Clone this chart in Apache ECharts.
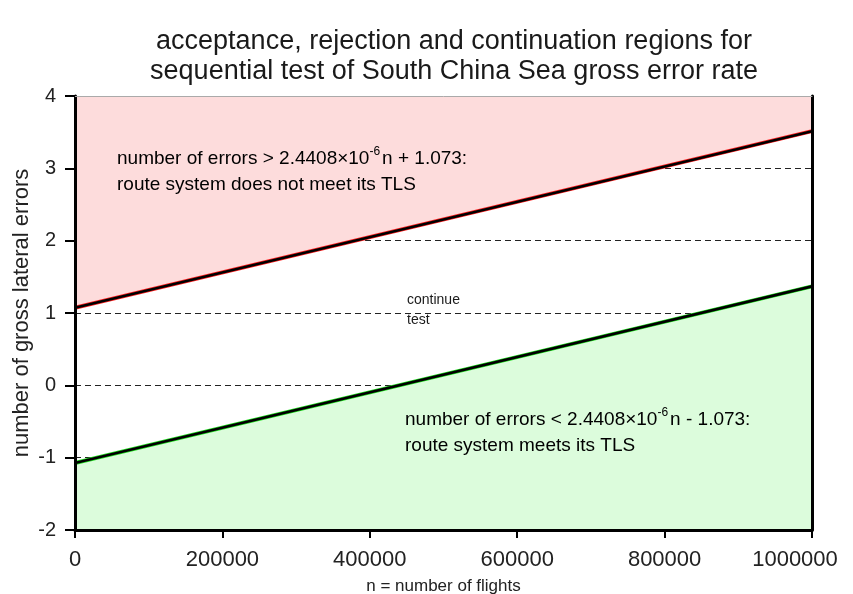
<!DOCTYPE html>
<html>
<head>
<meta charset="utf-8">
<script src="https://cdn.jsdelivr.net/npm/echarts@6/dist/echarts.min.js"></script>
<style>
  html, body { margin: 0; padding: 0; background: #fff; }
  #chart { width: 853px; height: 594px; }
</style>
</head>
<body>
<div id="chart"></div>
<script>
// Number of flights at the two ends of the boundary lines
const flights = [0, 1000000];
// Rejection boundary: errors = 2.4408e-6 n + 1.073
const rejectBoundary = [1.073, 3.514];
// Acceptance boundary: errors = 2.4408e-6 n - 1.073
const acceptBoundary = [-1.073, 1.368];
const xTicks = [0, 200000, 400000, 600000, 800000, 1000000];
const yTicks = [-2, -1, 0, 1, 2, 3, 4];

const FONT = '"Liberation Sans", Arial, sans-serif';
const pairs = (ys) => flights.map((x, i) => [x, ys[i]]);

const chart = echarts.init(document.getElementById('chart'), null, { renderer: 'canvas' });

const xMax = xTicks[xTicks.length - 1];
const xRange = { min: xTicks[0], max: xMax, interval: xTicks[1] - xTicks[0] };
const yRange = { min: yTicks[0], max: yTicks[yTicks.length - 1], interval: yTicks[1] - yTicks[0] };

const annotationRich = {
  t: { fontFamily: FONT, fontSize: 19, color: '#1a1a1a', lineHeight: 26 },
  s: { fontFamily: FONT, fontSize: 12, color: '#1a1a1a', verticalAlign: 'top', lineHeight: 26, padding: [0, 2, 8, 0] }
};

const tickFont = { fontFamily: FONT, fontSize: 22, color: '#222' };

chart.setOption({
  animation: false,
  backgroundColor: '#fff',
  title: {
    text: 'acceptance, rejection and continuation regions for\nsequential test of South China Sea gross error rate',
    left: 449, top: 22, textAlign: 'center',
    textStyle: { fontFamily: FONT, fontSize: 27, fontWeight: 'normal', color: '#1a1a1a', lineHeight: 30 }
  },
  grid: { left: 75, right: 41, top: 96, bottom: 64, containLabel: false, outerBoundsMode: 'none' },
  xAxis: [
    {
      type: 'value', position: 'bottom', ...xRange, z: 10,
      axisLine: { onZero: false, lineStyle: { color: '#000', width: 3 } },
      axisTick: { length: 8, lineStyle: { color: '#000', width: 2 } },
      axisLabel: {
        margin: 19, ...tickFont,
        // the last label is nudged left so it stays inside the canvas
        formatter: (v) => (v === xMax ? '{last|' + v + '}' : String(v)),
        rich: { last: { ...tickFont, padding: [0, 34, 0, 0] } }
      },
      splitLine: { show: false },
      name: 'n = number of flights', nameLocation: 'middle', nameGap: 48, nameMoveOverlap: false,
      nameTextStyle: { fontFamily: FONT, fontSize: 17, color: '#222' }
    },
    {
      type: 'value', position: 'top', ...xRange, z: 10,
      axisLine: { onZero: false, lineStyle: { color: '#aaa', width: 1 } },
      axisTick: { show: false }, axisLabel: { show: false }, splitLine: { show: false }
    }
  ],
  yAxis: [
    {
      type: 'value', position: 'left', ...yRange, z: 0,
      axisLine: { show: false }, axisTick: { show: false }, axisLabel: { show: false },
      splitLine: { show: true, lineStyle: { color: '#222', width: 1.2, type: [6, 4] } }
    },
    {
      type: 'value', position: 'left', ...yRange, z: 10,
      axisLine: { show: true, onZero: false, lineStyle: { color: '#000', width: 3 } },
      axisTick: { show: true, length: 10, lineStyle: { color: '#000', width: 2 } },
      axisLabel: { margin: 19, fontFamily: FONT, fontSize: 20, color: '#222' },
      splitLine: { show: false },
      name: 'number of gross lateral errors', nameLocation: 'middle', nameGap: 42, nameRotate: 90,
      nameMoveOverlap: false,
      nameTextStyle: { fontFamily: FONT, fontSize: 22, color: '#222' }
    },
    {
      type: 'value', position: 'right', ...yRange, z: 10,
      axisLine: { show: true, onZero: false, lineStyle: { color: '#000', width: 3 } },
      axisTick: { show: false }, axisLabel: { show: false }, splitLine: { show: false }
    }
  ],
  series: [
    {
      name: 'rejection region', type: 'line', data: pairs(rejectBoundary),
      xAxisIndex: 0, yAxisIndex: 0, showSymbol: false, z: 2,
      lineStyle: { color: '#ff2020', width: 4 },
      areaStyle: { origin: 'end', color: '#fddcdc', opacity: 1 }
    },
    {
      name: 'acceptance region', type: 'line', data: pairs(acceptBoundary),
      xAxisIndex: 0, yAxisIndex: 0, showSymbol: false, z: 2,
      lineStyle: { color: '#20e020', width: 4 },
      areaStyle: { origin: 'start', color: '#dcfcdc', opacity: 1 }
    },
    {
      name: 'rejection boundary', type: 'line', data: pairs(rejectBoundary),
      xAxisIndex: 0, yAxisIndex: 0, showSymbol: false, z: 3,
      lineStyle: { color: '#000', width: 2.6 }
    },
    {
      name: 'acceptance boundary', type: 'line', data: pairs(acceptBoundary),
      xAxisIndex: 0, yAxisIndex: 0, showSymbol: false, z: 3,
      lineStyle: { color: '#000', width: 2.6 }
    }
  ],
  graphic: [
    {
      type: 'text', left: 117, top: 146, z: 20,
      style: {
        text: '{t|number of errors > 2.4408\u00d710}{s|-6}{t|n + 1.073:}\n{t|route system does not meet its TLS}',
        rich: annotationRich
      }
    },
    {
      type: 'text', left: 405, top: 407, z: 20,
      style: {
        text: '{t|number of errors < 2.4408\u00d710}{s|-6}{t|n - 1.073:}\n{t|route system meets its TLS}',
        rich: annotationRich
      }
    },
    {
      type: 'text', left: 407, top: 293, z: 20,
      style: { text: 'continue', fontFamily: FONT, fontSize: 14, fill: '#1a1a1a' }
    },
    {
      type: 'text', left: 407, top: 313, z: 20,
      style: { text: 'test', fontFamily: FONT, fontSize: 14, fill: '#1a1a1a' }
    }
  ]
});
</script>
</body>
</html>
